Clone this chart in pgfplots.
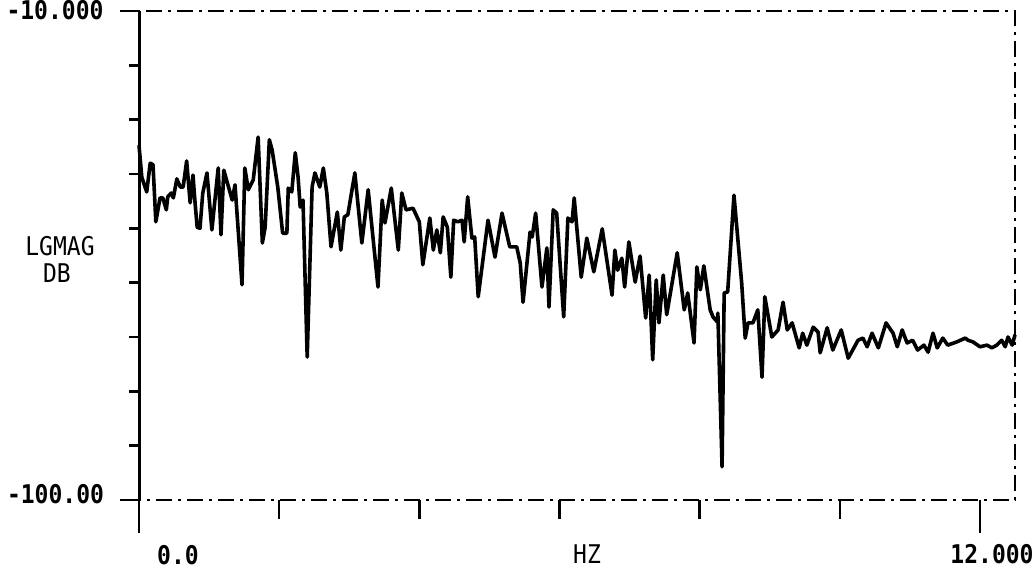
\documentclass[border=0pt]{standalone}
\usepackage{fontspec}
\setmonofont{DejaVu Sans Mono}
\usepackage{pgfplots}
\pgfplotsset{compat=1.18}

% Log-magnitude spectrum, dB against Hz
\pgfplotstableread{
hz     db
0.00  -34.7
0.04  -40.6
0.11  -43.3
0.16  -38.0
0.20  -38.3
0.24  -48.8
0.30  -44.4
0.34  -44.4
0.39  -46.6
0.41  -44.2
0.46  -43.5
0.49  -44.4
0.54  -40.9
0.59  -42.4
0.63  -42.4
0.68  -37.6
0.73  -45.3
0.77  -40.2
0.80  -45.3
0.83  -49.8
0.87  -50.0
0.91  -43.5
0.97  -39.8
1.04  -50.3
1.13  -38.9
1.17  -51.2
1.21  -39.3
1.33  -44.8
1.37  -42.0
1.47  -60.4
1.51  -38.9
1.56  -42.9
1.63  -41.1
1.70  -33.2
1.76  -52.7
1.80  -49.8
1.86  -33.7
1.90  -35.6
1.98  -42.4
2.05  -50.9
2.11  -50.9
2.13  -42.6
2.18  -43.3
2.23  -36.1
2.27  -40.6
2.30  -46.1
2.34  -44.8
2.40  -73.7
2.47  -42.4
2.51  -39.8
2.58  -42.4
2.63  -38.9
2.68  -43.5
2.74  -53.4
2.83  -47.0
2.88  -54.0
2.93  -47.9
2.98  -47.5
3.08  -39.8
3.18  -52.7
3.27  -42.9
3.41  -60.8
3.47  -44.8
3.51  -49.0
3.60  -42.6
3.70  -54.0
3.75  -43.5
3.81  -46.6
3.91  -46.3
4.00  -48.8
4.05  -56.7
4.15  -48.1
4.20  -54.0
4.25  -50.3
4.30  -54.5
4.34  -47.9
4.40  -49.8
4.45  -59.0
4.49  -48.5
4.55  -48.8
4.61  -48.5
4.64  -52.5
4.69  -44.2
4.75  -51.8
4.79  -51.6
4.84  -62.6
4.98  -48.5
5.08  -55.3
5.18  -47.2
5.29  -53.4
5.39  -53.4
5.44  -56.4
5.48  -63.6
5.58  -50.7
5.61  -51.6
5.66  -47.2
5.75  -60.8
5.82  -53.6
5.85  -64.5
5.91  -46.6
5.96  -47.2
6.06  -66.3
6.12  -48.1
6.18  -48.8
6.21  -44.4
6.25  -50.3
6.31  -59.0
6.39  -51.8
6.49  -58.0
6.61  -50.1
6.75  -62.3
6.79  -54.0
6.83  -57.7
6.89  -55.5
6.93  -60.8
6.99  -52.5
7.08  -59.9
7.15  -55.1
7.23  -66.5
7.28  -58.6
7.33  -74.2
7.38  -59.5
7.42  -67.4
7.48  -58.6
7.53  -65.9
7.68  -54.5
7.78  -65.0
7.83  -61.9
7.92  -71.1
7.96  -57.1
8.01  -61.3
8.06  -56.9
8.15  -65.0
8.19  -66.3
8.25  -67.2
8.26  -65.6
8.32  -93.9
8.35  -61.9
8.40  -61.7
8.49  -43.9
8.60  -60.1
8.65  -70.2
8.69  -67.4
8.76  -67.4
8.83  -65.0
8.89  -77.4
8.93  -62.6
9.03  -70.0
9.12  -68.7
9.19  -63.6
9.25  -68.7
9.32  -67.4
9.42  -72.0
9.47  -69.3
9.53  -71.5
9.62  -68.2
9.69  -69.1
9.72  -72.9
9.82  -68.3
9.90  -72.4
10.02 -68.7
10.12 -73.9
10.26 -70.6
10.33 -70.2
10.39 -71.8
10.46 -69.3
10.55 -72.0
10.66 -67.4
10.76 -69.3
10.82 -71.8
10.89 -68.7
10.96 -71.1
11.04 -70.6
11.11 -72.4
11.20 -71.5
11.26 -72.8
11.33 -69.3
11.39 -72.0
11.47 -70.2
11.54 -71.5
11.67 -70.9
11.79 -70.2
11.83 -70.6
11.90 -70.9
12.00 -71.8
12.10 -71.5
12.17 -72.0
12.24 -71.5
12.31 -70.6
12.36 -71.8
12.40 -70.0
12.46 -71.5
12.50 -69.6
}\spectrum

\newcommand\plotfont{\ttfamily\fontsize{23}{22}\selectfont}
% plotter lettering is a little taller than the mono face
\newcommand\tall[1]{\scalebox{1}[1.12]{#1}}

\begin{document}
\begin{tikzpicture}
\useasboundingbox (0pt,0pt) rectangle (1036pt,569pt);
\begin{axis}[
  at={(139pt,69pt)}, anchor=south west,
  scale only axis, width=876pt, height=489pt,
  xmin=0, xmax=12.5, ymin=-100, ymax=-10,
  clip=false,
  axis line style={line width=1.4pt, dash pattern=on 16pt off 6pt on 3pt off 6pt},
  tick align=outside, xtick pos=bottom, ytick pos=left,
  tick style={line width=2.4pt, black, solid},
  major tick length=19pt, minor tick length=10pt,
  xtick={2,4,6,8,10},
  extra x ticks={0,12}, extra x tick style={major tick length=33pt},
  ytick={-100,-10}, minor ytick={-90,-80,...,-20},
  xticklabels={}, yticklabels={}, extra x tick labels={},
]
\addplot[black, line width=3.6pt, line join=round] table[x=hz, y=db] {\spectrum};
\draw[line width=3pt] (rel axis cs:0,0) -- (rel axis cs:0,1);
\end{axis}

\node[font=\plotfont\bfseries, inner sep=0pt] at (55pt,559pt) {\tall{-10.000}};
\node[font=\plotfont\bfseries, inner sep=0pt] at (55.5pt,75pt) {\tall{-100.00}};
\node[font=\plotfont, inner sep=0pt] at (60pt,323pt) {\tall{LGMAG}};
\node[font=\plotfont, inner sep=0pt] at (57pt,296pt) {\tall{DB}};
\node[font=\plotfont\bfseries, inner sep=0pt] at (178pt,14pt) {\tall{0.0}};
\node[font=\plotfont, inner sep=0pt] at (587pt,15pt) {\tall{HZ}};
\node[font=\plotfont\bfseries, inner sep=0pt] at (992pt,15pt) {\tall{12.000}};
\end{tikzpicture}
\end{document}
